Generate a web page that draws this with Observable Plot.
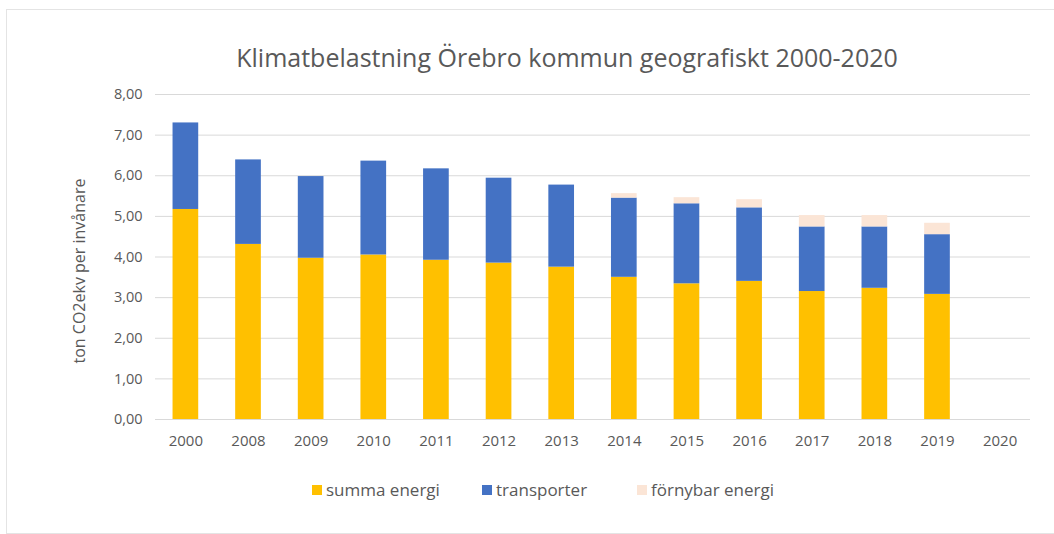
<!DOCTYPE html>
<html><head><meta charset="utf-8">
<script src="https://cdn.jsdelivr.net/npm/d3@7"></script>
<script src="https://cdn.jsdelivr.net/npm/@observablehq/plot@0.6"></script>
<style>
body{margin:0;background:#fff;font-family:"Open Sans",sans-serif;}
#wrap{position:relative;width:1054px;height:534px;overflow:hidden;}
#frame{position:absolute;left:6px;top:9px;width:1060px;height:525px;border:1px solid #e4e4e4;box-sizing:border-box;}
#title{position:absolute;left:0;width:1134px;top:40px;text-align:center;font-size:25px;color:#595959;}
#chart{position:absolute;left:0;top:0;}
#legend{position:absolute;top:478px;left:0;width:1054px;font-size:17px;color:#595959;}
.li{position:absolute;display:flex;align-items:center;white-space:nowrap;}
.sw{width:10px;height:10px;margin-right:4px;}
</style></head>
<body><div id="wrap"><div id="frame"></div><div id="title">Klimatbelastning Örebro kommun geografiskt 2000-2020</div><div id="chart"></div><div id="legend"></div></div>
<script>
const years = ["2000","2008","2009","2010","2011","2012","2013","2014","2015","2016","2017","2018","2019","2020"];
const seriesNames = ["summa energi","transporter","förnybar energi"];
const seriesColors = ["#FFC000","#4472C4","#FBE5D6"];
const summaEnergi = [5.17,4.31,3.97,4.05,3.92,3.85,3.75,3.50,3.34,3.40,3.15,3.23,3.08,null];
const transporter = [2.13,2.08,2.01,2.31,2.25,2.09,2.02,1.95,1.97,1.81,1.59,1.51,1.47,null];
const fornybarEnergi = [0,0,0,0,0,0,0,0.11,0.15,0.20,0.28,0.28,0.28,null];
const yTicks = [0,1,2,3,4,5,6,7,8];
const yLabel = "ton CO2ekv per invånare";

const seriesValues = [summaEnergi, transporter, fornybarEnergi];
const data = [];
years.forEach((y,i)=>seriesNames.forEach((s,j)=>{
  if (seriesValues[j][i] != null) data.push({year:y, series:s, value:seriesValues[j][i]});
}));
const fmt = v => d3.format(".2f")(v).replace(".", ",");

const plot = Plot.plot({
  width:1054, height:460,
  marginTop:94, marginBottom:41, marginLeft:155, marginRight:24,
  style:{fontFamily:"Open Sans, sans-serif", fontSize:"14px", color:"#595959", background:"transparent"},
  x:{domain:years, paddingInner:0.59, paddingOuter:0.28, round:false, label:null},
  y:{domain:[0,8], label:null},
  color:{domain:seriesNames, range:seriesColors},
  marks:[
    Plot.gridY(yTicks,{stroke:"#d9d9d9", strokeOpacity:1}),
    Plot.barY(data,{x:"year", y:"value", fill:"series"}),
    Plot.axisX({tickSize:0, tickPadding:16, fontSize:15, label:null}),
    Plot.axisY({ticks:yTicks, tickFormat:fmt, tickSize:0, tickPadding:13, fontSize:14.5, label:null}),
    Plot.text([yLabel],{frameAnchor:"left", textAnchor:"middle", dx:-76, dy:14, rotate:-90, fontSize:16, fill:"#595959"})
  ]
});
document.getElementById("chart").appendChild(plot);

const lefts = [312, 482, 637];
const leg = document.getElementById("legend");
seriesNames.forEach((s,i)=>{
  const d = document.createElement("div"); d.className="li"; d.style.left = lefts[i]+"px";
  d.innerHTML = `<div class="sw" style="background:${seriesColors[i]}"></div><span>${s}</span>`;
  leg.appendChild(d);
});
</script></body></html>
